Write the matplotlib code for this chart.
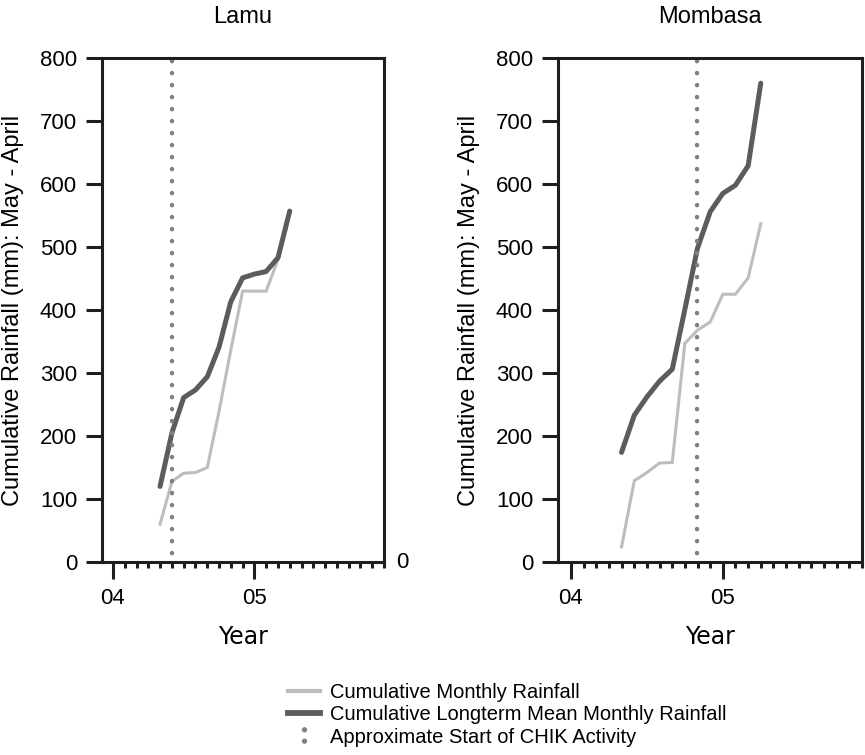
import numpy as np
import matplotlib.pyplot as plt
from matplotlib.lines import Line2D
from matplotlib.path import Path

plt.rcParams['font.family'] = ['Liberation Sans', 'DejaVu Sans']

# data: one point per month, May 2004 .. April 2005 (x in "years since 2000")
month_pos = [4.333, 4.417, 4.5, 4.583, 4.667, 4.75, 4.833, 4.917, 5.0, 5.083, 5.167, 5.25]

lamu_monthly = [60, 128, 141, 142, 150, 239, 336, 430, 430, 430, 480, 556]
lamu_longterm = [120, 205, 261, 273, 294, 341, 413, 451, 457, 461, 483, 557]
lamu_chik = 4.417

mombasa_monthly = [24, 129, 142, 157, 158, 347, 368, 381, 425, 425, 451, 537]
mombasa_longterm = [174, 233, 262, 287, 306, 401, 498, 556, 585, 598, 629, 760]
mombasa_chik = 4.833

year_ticks = [4, 5]
year_labels = ["04", "05"]

light = "#bdbdbd"
dark = "#5c5c5c"
dotc = "#808080"
boxc = "#1e1e1e"

W, H = 865, 755
fig = plt.figure(figsize=(W / 100, H / 100), dpi=100)


def make_panel(rect_px, xlim, title, monthly, longterm, chik):
    x0, x1, ytop, ybot = rect_px
    ax = fig.add_axes([x0 / W, 1 - ybot / H, (x1 - x0) / W, (ybot - ytop) / H])
    ax.plot(month_pos, monthly, color=light, lw=2.2, solid_joinstyle="miter")
    ax.plot(month_pos, longterm, color=dark, lw=3.6, solid_capstyle="round")
    # dotted marker for start of CHIK activity, drawn top-down so it reaches the top
    ax.plot([chik, chik], [795, 3], color=dotc, lw=3.2, clip_on=False,
            linestyle=(0, (0.05, 2.65)), dash_capstyle="round")
    ax.set_xlim(xlim)
    ax.set_ylim(0, 800)
    ax.set_yticks(np.arange(0, 801, 100))
    ax.set_xticks(year_ticks)
    ax.set_xticklabels(year_labels)
    ax.set_xticks(np.arange(4, 5.95, 1 / 12), minor=True)
    for s in ax.spines.values():
        s.set_linewidth(2.2)
        s.set_color(boxc)
    ax.tick_params(axis="y", which="major", direction="out", length=11.5,
                   width=2.2, color=boxc, pad=6.5, labelsize=16)
    ax.tick_params(axis="x", which="major", direction="out", length=12,
                   width=2.2, color=boxc, pad=7, labelsize=16)
    ax.tick_params(axis="x", which="minor", direction="out", length=4.5,
                   width=2.2, color=boxc)
    ax.set_title(title, fontsize=17, pad=25)
    ax.set_ylabel("Cumulative Rainfall (mm): May - April", fontsize=17,
                  labelpad=11)
    ax.set_xlabel("Year", fontsize=17, family="DejaVu Sans", labelpad=11)
    return ax


ax1 = make_panel((102, 384, 58, 562), (3.9225, 5.908), "Lamu",
                 lamu_monthly, lamu_longterm, lamu_chik)
ax1.text(1.042, 0, "0", transform=ax1.get_yaxis_transform(),
         ha="left", va="center", fontsize=16)

ax2 = make_panel((558, 862, 58, 562), (3.9145, 5.914), "Mombasa",
                 mombasa_monthly, mombasa_longterm, mombasa_chik)

# legend
dots = Path.make_compound_path(Path.circle((0, 0.6), 0.28),
                               Path.circle((0, -0.6), 0.28))
handles = [
    Line2D([], [], color=light, lw=3),
    Line2D([], [], color=dark, lw=4.2),
    Line2D([], [], color=dotc, lw=0, marker=dots, markersize=12,
           markeredgewidth=0),
]
labels = ["Cumulative Monthly Rainfall",
          "Cumulative Longterm Mean Monthly Rainfall",
          "Approximate Start of CHIK Activity"]
fig.legend(handles, labels, loc="center left",
           bbox_to_anchor=(288 / W, 1 - 715 / H), frameon=False,
           fontsize=14.5, borderpad=0, borderaxespad=0, labelspacing=0.15,
           handlelength=1.6, handletextpad=0.5)

plt.savefig("out.png", dpi=100)
